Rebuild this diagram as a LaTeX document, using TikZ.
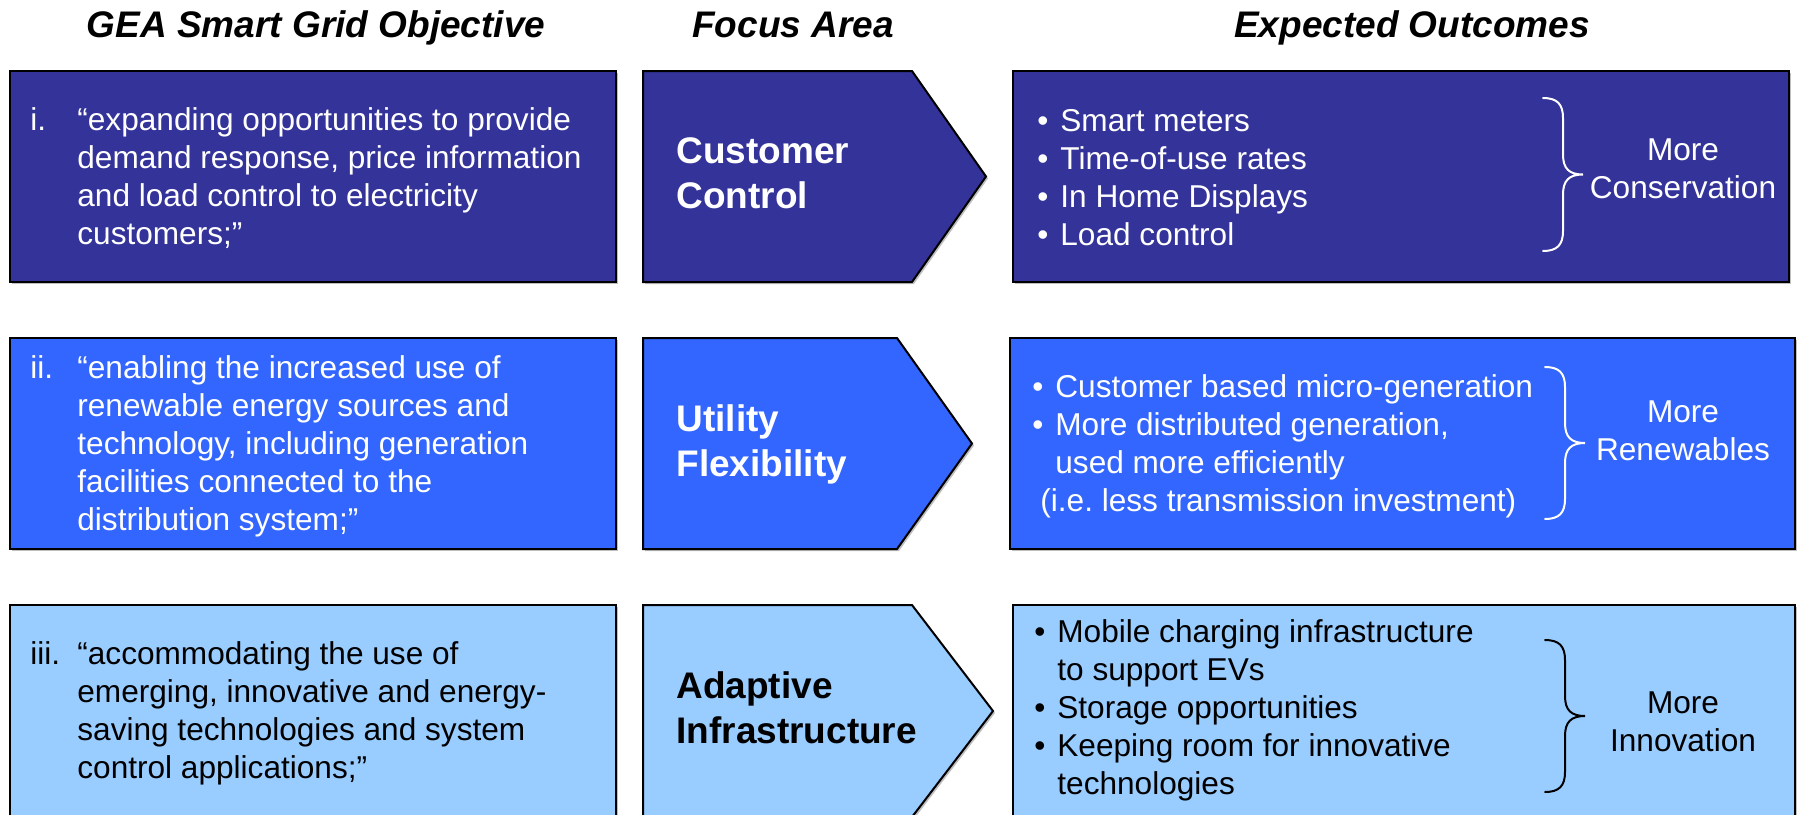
\documentclass[tikz,border=0pt]{standalone}
\usepackage{fontspec}
\setmainfont{Liberation Sans}
\frenchspacing

\definecolor{rowone}{HTML}{333399}
\definecolor{rowtwo}{HTML}{3366FF}
\definecolor{rowthree}{HTML}{99CCFF}

\newcommand{\bodyfont}{\fontsize{15.8}{19}\selectfont}
\newcommand{\itm}{\makebox[11.5pt][l]{•}}
\newcommand{\cont}{\hspace*{11.5pt}}
% brace: x of the ends, top y, bottom y
\newcommand{\outbrace}[4]{%
  \draw[brace,#4] (#1,#2) .. controls (#1+14,#2) and (#1+20,#2+6) .. (#1+20,#2+20)
    -- (#1+20,{(#2+#3)/2-20}) .. controls (#1+20,{(#2+#3)/2-6}) and (#1+26,{(#2+#3)/2}) .. (#1+40,{(#2+#3)/2})
    .. controls (#1+26,{(#2+#3)/2}) and (#1+20,{(#2+#3)/2+6}) .. (#1+20,{(#2+#3)/2+20})
    -- (#1+20,#3-20) .. controls (#1+20,#3-6) and (#1+14,#3) .. (#1,#3);}

\begin{document}
\begin{tikzpicture}[x=0.5pt,y=-0.5pt,
  box/.style={draw=black,line width=1pt,
    preaction={fill=black!25,transform canvas={shift={(1pt,-1pt)}}}},
  body/.style={inner sep=0pt,anchor=base west,align=left,font=\bodyfont},
  result/.style={inner sep=0pt,anchor=base,align=center,font=\bodyfont},
  focus/.style={inner sep=0pt,anchor=base west,align=left,
    font=\fontsize{18.5}{22.5}\selectfont\bfseries},
  head/.style={inner sep=0pt,anchor=base,font=\fontsize{18.5}{22}\selectfont\bfseries\itshape},
  brace/.style={line width=1pt,line cap=round}]

  \useasboundingbox (0,0) rectangle (1804,814);
  \clip (0,0) rectangle (1804,814);

  % column titles
  \node[head] (h1) at (316,37) {GEA Smart Grid Objective};
  \node[head] (h2) at (793,37) {Focus Area};
  \node[head] (h3) at (1412,37) {Expected Outcomes};

  % boxes of the three rows
  \foreach \ytop/\ybot/\xbase/\xtip/\xr/\xo/\col in
    {71/282/912/986/1789/1013/rowone,
     338/549/897/972/1795/1010/rowtwo,
     605/817/912/993/1795/1013/rowthree}{
    \filldraw[box,fill=\col] (10,\ytop) rectangle (616,\ybot);
    \filldraw[box,fill=\col] (643,\ytop) -- (\xbase,\ytop) -- (\xtip,{(\ytop+\ybot)/2})
      -- (\xbase,\ybot) -- (643,\ybot) -- cycle;
    \filldraw[box,fill=\col] (\xo,\ytop) rectangle (\xr,\ybot);
  }

  % row i (multi-line nodes sit on the baseline of their last line)
  \node[body,text=white] (n1) at (30,130) {i.};
  \node[body,text=white] (obj1) at (77,244)
    {“expanding opportunities to provide\\demand response, price information\\and load control to electricity\\customers;”};
  \node[focus,text=white] (foc1) at (676,208) {Customer\\Control};
  \node[body,text=white] (out1) at (1037,245)
    {\itm Smart meters\\\itm Time-of-use rates\\\itm In Home Displays\\\itm Load control};
  \outbrace{1543}{98}{251}{white}
  \node[result,text=white] (res1) at (1683,198) {More\\Conservation};

  % row ii
  \node[body,text=white] (n2) at (30,378) {ii.};
  \node[body,text=white] (obj2) at (77,530)
    {“enabling the increased use of\\renewable energy sources and\\technology, including generation\\facilities connected to the\\distribution system;”};
  \node[focus,text=white] (foc2) at (676,476) {Utility\\Flexibility};
  \node[body,text=white] (out2) at (1032,511)
    {\itm Customer based micro-generation\\\itm More distributed generation,\\\cont used more efficiently\\\hspace*{4pt}(i.e. less transmission investment)};
  \outbrace{1545}{367}{519}{white}
  \node[result,text=white] (res2) at (1683,460) {More\\Renewables};

  % row iii
  \node[body] (n3) at (30,664) {iii.};
  \node[body] (obj3) at (77,778)
    {“accommodating the use of\\emerging, innovative and energy-\\saving technologies and system\\control applications;”};
  \node[focus] (foc3) at (676,743) {Adaptive\\Infrastructure};
  \node[body] (out3) at (1034,794)
    {\itm Mobile charging infrastructure\\\cont to support EVs\\\itm Storage opportunities\\\itm Keeping room for innovative\\\cont technologies};
  \outbrace{1545}{640}{792}{black}
  \node[result] (res3) at (1683,751) {More\\Innovation};
\end{tikzpicture}
\end{document}
